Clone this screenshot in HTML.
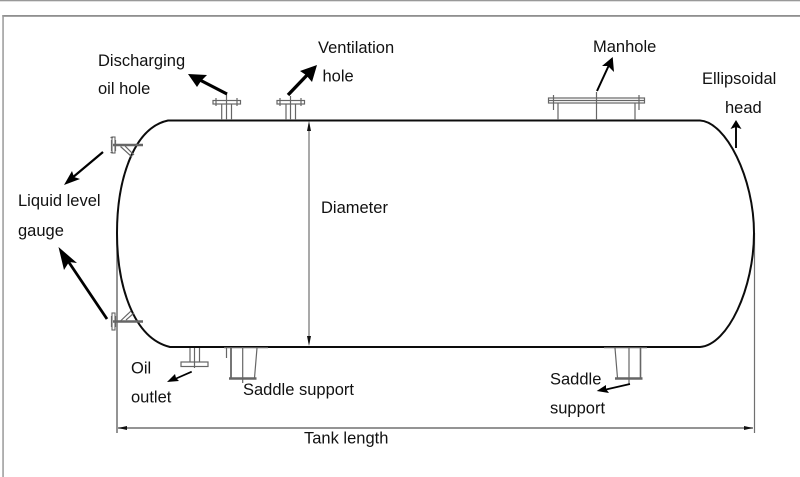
<!DOCTYPE html>
<html><head><meta charset="utf-8"><style>
html,body{margin:0;padding:0;background:#fff;width:800px;height:477px;overflow:hidden}
svg{display:block}
text{font-family:"Liberation Sans",Arial,sans-serif;font-size:16.5px;fill:#111}
</style></head><body>
<svg width="800" height="477" viewBox="0 0 800 477" xmlns="http://www.w3.org/2000/svg">
<rect width="800" height="477" fill="#fff"/>
<!-- frame -->
<rect x="0" y="0" width="800" height="1.3" fill="#999"/>
<rect x="2.3" y="15" width="797.7" height="1.8" fill="#8f8f8f"/>
<rect x="2.3" y="15" width="1.5" height="462" fill="#999"/>
<!-- dimension lines -->
<g stroke="#707070" fill="none">
<path d="M117 233V433" stroke-width="1.5"/>
<path d="M754.5 233V433" stroke-width="1.2"/>
<path d="M118 428H753" stroke-width="1.4"/>
<path d="M309 124V343" stroke-width="1.2"/>
</g>
<g fill="#111">
<polygon points="118,428 127,426 127,430"/>
<polygon points="753,428 744,426 744,430"/>
<polygon points="309,121 307,131 311,131"/>
<polygon points="309,346 307,336 311,336"/>
</g>
<!-- tank -->
<path d="M168 120.5H700C726 122 754 178 754 233C754 288 728 345 700 347H170C133 338 117 285 117 233C117 181 133 128 168 120.5Z" fill="none" stroke="#0c0c0c" stroke-width="2"/>
<!-- nozzles -->
<g stroke="#666" fill="none" stroke-width="1.2">
<rect x="213" y="100.5" width="27.5" height="3.5"/>
<path d="M216 98V106M237 98V106M221.7 104V120M226.5 94V120M231.5 104V120"/>
<rect x="277" y="100.5" width="27.5" height="3.5"/>
<path d="M280 98V106M301 98V106M286 104V120M290.5 96V120M295.5 104V120"/>
<!-- manhole -->
<rect x="548.5" y="98" width="96" height="5"/>
<path d="M549 100.5H644M553.5 95V110M639 95V110M558 103V120M635 103V120M596.5 92V120"/>
<!-- gauges -->
<path d="M111.5 140V151M115.5 140V151M110.5 137.5H113M110.5 152.5H113M120.5 146.5L132 157M125 146L134 155"/>
<path d="M111.5 316V327M115.5 316V327M120.5 321L131 311M126 320L134 313"/>
<!-- oil outlet -->
<path d="M190 348V362M194.5 348V368M199.5 348V362"/>
<rect x="181" y="362" width="27" height="4.5"/>
<!-- saddles -->
<path d="M224 347.7H268M226.5 348V358M242.7 347V383"/>
<path d="M257 348L254.5 378"/>
<path d="M604 347.7H647M615 348L617.5 378M629 348V384"/>
</g>
<g stroke="#666" fill="none">
<path d="M231 348V378" stroke-width="1.8"/>
<path d="M229 378.5H256.5" stroke-width="2.4"/>
<path d="M640.5 348V378" stroke-width="1.6"/>
<path d="M615 378.5H642.5" stroke-width="2.4"/>
<path d="M113 145H143" stroke-width="2.4"/>
<path d="M113 321.5H143" stroke-width="2.4"/>
<rect x="112" y="137" width="3" height="16" stroke-width="1.1"/>
<rect x="112" y="313" width="3" height="17" stroke-width="1.1"/>
</g>
<!-- thick callouts -->
<g stroke="#000" fill="none" stroke-linecap="butt">
<path d="M227 94L197 78.5" stroke-width="3.2"/>
<path d="M288 95L310 72" stroke-width="3.4"/>
<path d="M597 91L609 65" stroke-width="2"/>
<path d="M736 148V127" stroke-width="1.9"/>
<path d="M103 152L72 178" stroke-width="2.2"/>
<path d="M107 319L66 258" stroke-width="2.8"/>
<path d="M191.7 371.7L175 379" stroke-width="1.7"/>
<path d="M630 384L606 389.5" stroke-width="1.7"/>
</g>
<g fill="#000">
<polygon points="188,74 207,75 201,81 197,87"/>
<polygon points="317,65 312,82 306,75 300,71"/>
<polygon points="612.7,57 614,72 608,66 602,66"/>
<polygon points="736,120 741.5,129 736,127 730.5,129"/>
<polygon points="64,185 72,171 74,177 80,179"/>
<polygon points="58.5,247 77,263 69,262 64,270"/>
<polygon points="167,382 175,374 176,378 179,381"/>
<polygon points="596.7,391 606,385 606,389 609,393"/>
</g>
<!-- labels -->
<text x="98" y="66">Discharging</text>
<text x="98" y="94">oil hole</text>
<text x="318" y="53">Ventilation</text>
<text x="322.5" y="81.5">hole</text>
<text x="593" y="52">Manhole</text>
<text x="702" y="84">Ellipsoidal</text>
<text x="725" y="113">head</text>
<text x="18" y="206">Liquid level</text>
<text x="18" y="236">gauge</text>
<text x="321" y="213">Diameter</text>
<text x="131" y="373.5">Oil</text>
<text x="131" y="402.5">outlet</text>
<text x="243" y="395">Saddle support</text>
<text x="550" y="384.5">Saddle</text>
<text x="550" y="413.5">support</text>
<text x="304" y="443.5">Tank length</text>
</svg>
</body></html>
